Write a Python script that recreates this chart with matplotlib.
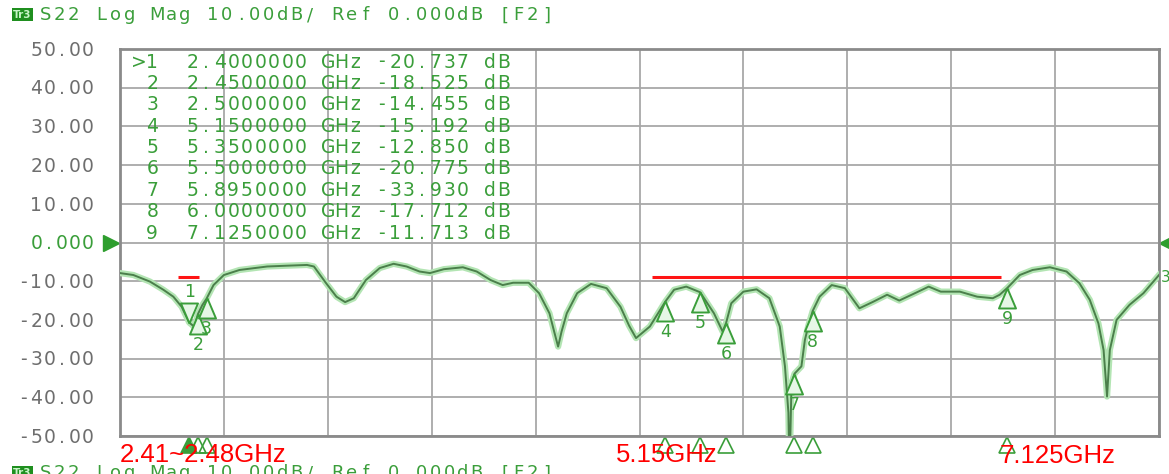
import matplotlib
matplotlib.use('Agg')
import matplotlib.pyplot as plt
import matplotlib.transforms as mtransforms
from matplotlib.patches import Rectangle
import numpy as np

DPI = 100
W, H = 1169, 474

# S22 trace (GHz, dB)
FREQ_GHZ = [
    2.000, 2.077, 2.173, 2.250, 2.308, 2.356, 2.400, 2.430, 2.450, 2.475,
    2.500, 2.540, 2.600, 2.690, 2.850, 2.960, 3.080, 3.120, 3.190, 3.250,
    3.300, 3.350, 3.420, 3.500, 3.580, 3.655, 3.730, 3.790, 3.870, 3.980,
    4.060, 4.140, 4.210, 4.270, 4.360, 4.420, 4.480, 4.510, 4.530, 4.550,
    4.580, 4.640, 4.720, 4.810, 4.890, 4.940, 4.980, 5.060, 5.150, 5.200,
    5.270, 5.350, 5.430, 5.480, 5.500, 5.530, 5.600, 5.676, 5.750, 5.810,
    5.840, 5.860, 5.866, 5.878, 5.895, 5.935, 5.955, 5.975, 6.000, 6.040,
    6.110, 6.186, 6.270, 6.350, 6.430, 6.500, 6.600, 6.670, 6.740, 6.850,
    6.950, 7.040, 7.080, 7.125, 7.196, 7.270, 7.370, 7.466, 7.540, 7.600,
    7.650, 7.680, 7.700, 7.716, 7.755, 7.830, 7.910, 8.000,
]
S22_DB = [
    -7.9, -8.4, -10.1, -12.2, -14.0, -16.6, -20.7, -21.8, -18.5, -16.2,
    -14.5, -11.0, -8.4, -7.1, -6.2, -6.0, -5.8, -6.2, -10.5, -14.0,
    -15.4, -14.4, -9.7, -6.6, -5.5, -6.2, -7.5, -7.9, -6.9, -6.4,
    -7.5, -9.7, -11.0, -10.4, -10.4, -13.1, -18.3, -23.5, -26.9, -23.0,
    -18.3, -13.1, -10.7, -11.8, -16.6, -21.5, -24.7, -21.7, -15.2, -12.2,
    -11.4, -12.85, -18.3, -23.0, -20.8, -15.7, -12.7, -12.1, -14.4, -21.7,
    -32.0, -44.0, -60.0, -36.4, -33.9, -32.0, -25.2, -21.5, -17.7, -14.0,
    -11.0, -11.8, -17.0, -15.3, -13.5, -15.0, -12.9, -11.4, -12.7, -12.7,
    -14.0, -14.4, -13.5, -11.7, -8.4, -7.1, -6.4, -7.5, -10.5, -14.8,
    -20.9, -27.8, -39.8, -27.8, -20.0, -16.1, -13.1, -8.4,
]

MARKER_IDS = [1, 2, 3, 4, 5, 6, 7, 8, 9]
MARKER_FREQ_GHZ = [2.40, 2.45, 2.50, 5.15, 5.35, 5.50, 5.895, 6.00, 7.125]
MARKER_DB = [-20.737, -18.525, -14.455, -15.192, -12.850, -20.775, -33.930, -17.712, -11.713]
ACTIVE_MARKER = 1

Y_TICKS = [50, 40, 30, 20, 10, 0, -10, -20, -30, -40, -50]
X_START, X_STOP = 2.0, 8.0

# red band annotations: (start GHz, stop GHz, level dB)
BAND_LINES = [(2.335, 2.455, -9.0), (5.07, 7.09, -9.0)]
BAND_LABELS = ['2.41~2.48GHz', '5.15GHz', '7.125GHz']
BAND_LABEL_PX = [(120, 462), (616, 462), (1000, 463)]

TRACE_TAG = 'Tr3'
HEADER = 'S22 Log Mag 10.00dB/ Ref 0.000dB [F2]'

GREEN = '#3a9e3a'
TRACE = '#4b7f4b'
GRAY_TXT = '#6e6e6e'

# marker triangle, roughly 17 px wide by 20 px tall
TRI_UP = [(0, 1), (-0.85, -1), (0.85, -1), (0, 1)]
TRI_DOWN = [(0, -1), (-0.85, 1), (0.85, 1), (0, -1)]

fig = plt.figure(figsize=(W / DPI, H / DPI), dpi=DPI)
fig.patch.set_facecolor('white')
ax = fig.add_axes([120 / W, 38 / H, 1039 / W, 387 / H])


def px_offset(base, dx, dy):
    # dx right, dy down, in pixels
    return mtransforms.offset_copy(base, fig=fig, x=dx, y=-dy, units='dots')


def pitch_text(x, y, s, base, dx0, dy, pitch, size, color, holder=ax):
    # fixed-pitch LCD style text, one cell per character
    for i, ch in enumerate(s):
        if ch == ' ':
            continue
        holder.text(x, y, ch, transform=px_offset(base, dx0 + i * pitch, dy),
                    ha='center', va='baseline', fontsize=size, color=color,
                    family='DejaVu Sans', clip_on=False)


ax.set_xlim(X_START, X_STOP)
ax.set_ylim(min(Y_TICKS), max(Y_TICKS))
ax.set_xticks(np.linspace(X_START, X_STOP, 11))
ax.set_yticks(Y_TICKS)
ax.tick_params(length=0, labelleft=False, labelbottom=False)
ax.grid(color='#a8a8a8', lw=1.3)
for sp in ax.spines.values():
    sp.set_color('#8a8a8a')
    sp.set_linewidth(2)

# y tick labels, right aligned at x=94 px
ytr = ax.get_yaxis_transform()
pitch_y = 12.8
for v in Y_TICKS:
    s = '0.000' if v == 0 else f'{v:.2f}'
    col = GREEN if v == 0 else GRAY_TXT
    dx0 = -26 - (len(s) - 0.5) * pitch_y
    pitch_text(0, v, s, ytr, dx0, 6.8, pitch_y, 13.5, col)

# reference triangles at 0 dB
ax.plot(0, 0, marker='>', ms=11, color='#2e9e2e', transform=px_offset(ytr, -9, 0), clip_on=False)
ax.plot(1, 0, marker='<', ms=11, color='#2e9e2e', transform=px_offset(ytr, 8, 0), clip_on=False)

# marker table
for k, (mid, f, db) in enumerate(zip(MARKER_IDS, MARKER_FREQ_GHZ, MARKER_DB)):
    flag = '>' if mid == ACTIVE_MARKER else ' '
    row = f'{flag}{mid}  {f:.7f} GHz {db:.3f} dB'
    pitch_text(0, 1, row, ax.transAxes, 18.75, 11.7 + 21.4 * k + 6.8, 13.5, 13.5, GREEN)

# trace
ax.plot(FREQ_GHZ, S22_DB, color='#b3e5b3', lw=4.5, solid_joinstyle='round', zorder=3)
ax.plot(FREQ_GHZ, S22_DB, color=TRACE, lw=1.4, zorder=4)
ax.text(FREQ_GHZ[-1], S22_DB[-1], '3', transform=px_offset(ax.transData, 7, 2),
        color=GREEN, fontsize=11, ha='center', va='center', clip_on=False)

# markers on the trace
for mid, f, db in zip(MARKER_IDS, MARKER_FREQ_GHZ, MARKER_DB):
    up = mid != ACTIVE_MARKER
    sign = 1 if up else -1
    ax.plot(f, db, marker=TRI_UP if up else TRI_DOWN, ms=14.4, mfc='#e6f7e6',
            mec=GREEN, mew=1.4, transform=px_offset(ax.transData, 0, 10 * sign), zorder=5)
    ax.text(f, db, str(mid), transform=px_offset(ax.transData, 0, 31 * sign),
            ha='center', va='center', fontsize=12.5, color=GREEN, zorder=5)

# marker indicators below the x axis
btr = mtransforms.blended_transform_factory(ax.transData, ax.transAxes)
for mid, f in zip(MARKER_IDS, MARKER_FREQ_GHZ):
    filled = mid == ACTIVE_MARKER
    ax.plot(f, 0, marker='^', ms=11, mfc=GREEN if filled else 'none', mec=GREEN,
            mew=1.2, transform=px_offset(btr, 0, 9), clip_on=False)

# red band annotations
for x0, x1, lvl in BAND_LINES:
    ax.hlines(lvl, x0, x1, color='#ff1414', lw=2.2, zorder=6)
for s, (px, py) in zip(BAND_LABELS, BAND_LABEL_PX):
    fig.text(px / W, 1 - py / H, s, color='#ff0000', fontsize=18.5,
             family='Liberation Sans', ha='left', va='baseline', zorder=10)

# channel header (top) and the cut-off header of the next channel (bottom)
for y_top in (8, 466):
    fig.patches.append(Rectangle((12 / W, 1 - (y_top + 13) / H), 21 / W, 13 / H,
                                 transform=fig.transFigure, facecolor='#1f8f1f',
                                 edgecolor='none'))
    fig.text(22.5 / W, 1 - (y_top + 6.5) / H, TRACE_TAG, color='#c8f5c8', fontsize=7.5,
             fontweight='bold', ha='center', va='center')
    pitch_text(0, 1, HEADER, fig.transFigure, 39 + 6.95, y_top + 12.5, 13.9, 13, GREEN, holder=fig)

fig.savefig('out.png', dpi=DPI)
plt.close(fig)
